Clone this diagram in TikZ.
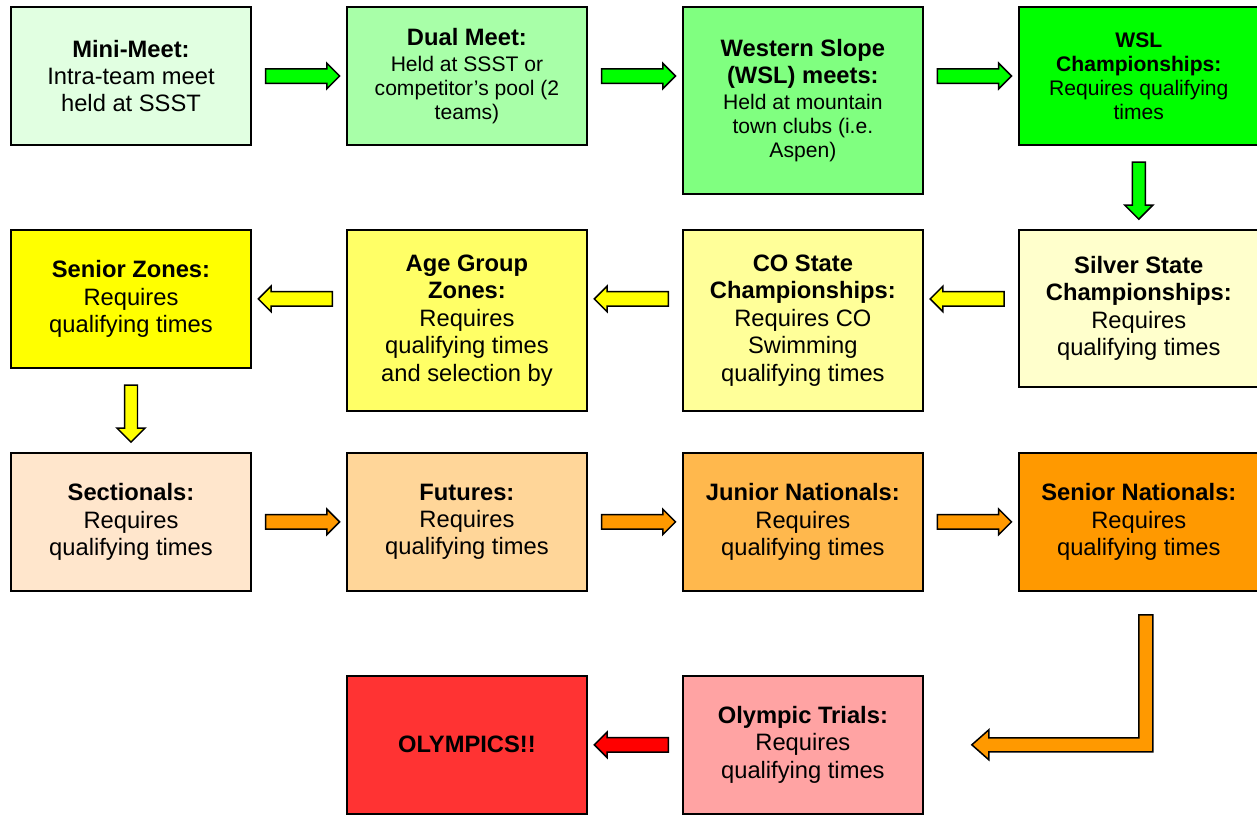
\documentclass[tikz,border=0pt]{standalone}
\usepackage{fontspec}
\setmainfont{Liberation Sans}
\usetikzlibrary{positioning,shapes.arrows,calc}

\definecolor{mini}{HTML}{E1FFE1}
\definecolor{dual}{HTML}{A8FFA8}
\definecolor{wslm}{HTML}{80FF80}
\definecolor{wslc}{HTML}{00FF00}
\definecolor{silver}{HTML}{FFFFCC}
\definecolor{costate}{HTML}{FFFF99}
\definecolor{agezone}{HTML}{FFFF66}
\definecolor{snrzone}{HTML}{FFFF00}
\definecolor{sect}{HTML}{FFE6CC}
\definecolor{futures}{HTML}{FFD699}
\definecolor{junior}{HTML}{FFB84D}
\definecolor{senior}{HTML}{FF9900}
\definecolor{trials}{HTML}{FFA3A3}
\definecolor{olympics}{HTML}{FF3333}
\definecolor{agreen}{HTML}{00FF00}
\definecolor{ayellow}{HTML}{FFFF00}
\definecolor{aorange}{HTML}{FF9900}
\definecolor{ared}{HTML}{FF0000}

\newcommand{\bodysmall}{\fontsize{12}{13.6}\selectfont}
\newcommand{\titlebig}{\fontsize{13.5}{15.6}\selectfont\bfseries}

\begin{document}
\begin{tikzpicture}[main/.style = {draw, line width=1.1pt, minimum width=4.8cm, minimum height=2.76cm, align=center, inner sep=2pt, font=\fontsize{13.5}{15.6}\selectfont},
            harrow/.style = {draw, line width=0.85pt, single arrow, single arrow head extend=0.11cm, minimum width=0.48cm, minimum height=1.48cm, inner xsep=0pt, inner ysep=0.13cm},
            varrow/.style = {harrow, single arrow head extend=0.15cm, inner ysep=0.115cm, minimum width=0.53cm, minimum height=1.14cm, rotate=-90}]

            \useasboundingbox (0,0) rectangle (25.14,-16.3);

            \node[main, fill=mini] (1) at (2.62,-1.52) {\textbf{Mini-Meet:}\\Intra-team meet\\held at SSST};
            \node[main, fill=dual, right=1.88cm of 1.north east, anchor=north west, font=\bodysmall] (2) {\titlebig Dual Meet:\\[1.7pt]Held at SSST or\\competitor’s pool (2\\teams)};
            \node[main, fill=wslm, minimum height=3.74cm, right=1.88cm of 2.north east, anchor=north west, font=\bodysmall] (3) {\titlebig Western Slope\\[1.7pt]\titlebig (WSL) meets:\\[1.7pt]Held at mountain\\town clubs (i.e.\\Aspen)};
            \node[main, fill=wslc, right=1.88cm of 3.north east, anchor=north west, font=\bodysmall] (4) {\textbf{WSL}\\\textbf{Championships:}\\Requires qualifying\\times};

            \node[main, fill=silver, minimum height=3.14cm, below=1.66cm of 4.south, anchor=north] (5) {\textbf{Silver State}\\\textbf{Championships:}\\Requires\\qualifying times};
            \node[main, fill=costate, minimum height=3.62cm, left=1.88cm of 5.north west, anchor=north east] (6) {\textbf{CO State}\\\textbf{Championships:}\\Requires CO\\Swimming\\qualifying times};
            \node[main, fill=agezone, minimum height=3.62cm, left=1.88cm of 6.north west, anchor=north east] (7) {\textbf{Age Group}\\\textbf{Zones:}\\Requires\\qualifying times\\and selection by};
            \node[main, fill=snrzone, left=1.88cm of 7.north west, anchor=north east] (8) {\textbf{Senior Zones:}\\Requires\\qualifying times};

            \node[main, fill=sect, below=1.66cm of 8.south, anchor=north] (9) {\textbf{Sectionals:}\\Requires\\qualifying times};
            \node[main, fill=futures, right=1.88cm of 9] (10) {\textbf{Futures:}\\Requires\\qualifying times};
            \node[main, fill=junior, right=1.88cm of 10] (11) {\textbf{Junior Nationals:}\\Requires\\qualifying times};
            \node[main, fill=senior, right=1.88cm of 11] (12) {\textbf{Senior Nationals:}\\Requires\\qualifying times};

            \node[main, fill=trials, below=1.66cm of 11.south, anchor=north] (13) {\textbf{Olympic Trials:}\\Requires\\qualifying times};
            \node[main, fill=olympics, left=1.88cm of 13] (14) {\textbf{OLYMPICS!!}};

            \node[harrow, fill=agreen] (a1) at ($(1.east)!0.5!(2.west)$) {};
            \node[harrow, fill=agreen] (a2) at ($(2.east)!0.5!(2.east -| 3.west)$) {};
            \node[harrow, fill=agreen] (a3) at ($(3.east |- 4.west)!0.5!(4.west)$) {};
            \node[varrow, fill=agreen] (a4) at ($(4.south)!0.5!(5.north)$) {};

            \node[harrow, fill=ayellow, rotate=180] (a5) at ($(5.west |- 8.east)!0.5!(6.east |- 8.east)$) {};
            \node[harrow, fill=ayellow, rotate=180] (a6) at ($(6.west |- 8.east)!0.5!(7.east |- 8.east)$) {};
            \node[harrow, fill=ayellow, rotate=180] (a7) at ($(7.west |- 8.east)!0.5!(8.east)$) {};
            \node[varrow, fill=ayellow] (a8) at ($(8.south)!0.5!(9.north)$) {};

            \node[harrow, fill=aorange] (a9) at ($(9.east)!0.5!(10.west)$) {};
            \node[harrow, fill=aorange] (a10) at ($(10.east)!0.5!(11.west)$) {};
            \node[harrow, fill=aorange] (a11) at ($(11.east)!0.5!(12.west)$) {};

            \coordinate (bendtop) at ([yshift=-0.46cm]12.south);
            \coordinate (bendtip) at ([xshift=0.96cm]13.east);
            \draw[line width=0.85pt, fill=aorange] (bendtop) -- ++(0.28,0) |- ([shift={(0.34,-0.14)}]bendtip) -- ++(0,-0.16) -- (bendtip) -- ++(0.34,0.3) -- ++(0,-0.16) -| (bendtop) -- cycle;

            \node[harrow, fill=ared, rotate=180] (a13) at ($(13.west)!0.5!(14.east)$) {};

        \end{tikzpicture}
\end{document}
